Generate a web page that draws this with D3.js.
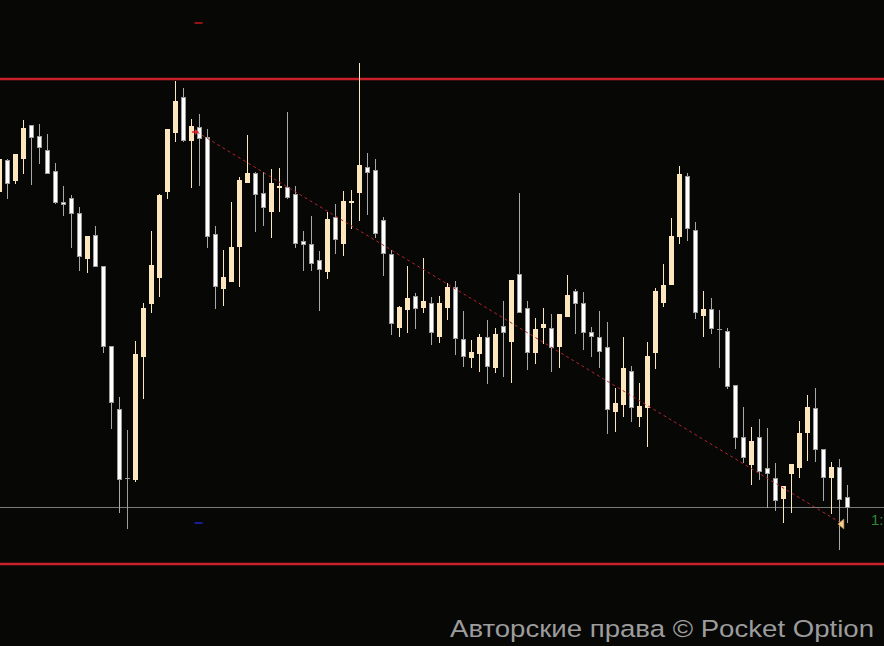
<!DOCTYPE html>
<html><head><meta charset="utf-8">
<script src="https://cdn.jsdelivr.net/npm/d3@7"></script>
<style>html,body{margin:0;padding:0;background:#070706;overflow:hidden}</style>
</head><body><svg id="chart" width="884" height="646"></svg>
<script>
const openP = [1.2888,1.2919,1.2899,1.2921,1.2954,1.2943,1.2929,1.2908,1.2877,1.2881,
1.2866,1.2821,1.2844,1.2813,1.2733,1.2670,1.2601,1.2600,1.2723,1.2776,
1.2802,1.2888,1.2947,1.2982,1.2939,1.2952,1.2942,1.2845,1.2791,1.2798,
1.2833,1.2897,1.2906,1.2886,1.2868,1.28925,1.2892,1.2885,1.2838,1.2835,
1.2819,1.2808,1.2862,1.2836,1.28775,1.2887,1.2912,1.2909,1.2859,1.2825,
1.2752,1.2770,1.2783,1.2772,1.2776,1.2743,1.2772,1.2792,1.2740,1.2722,
1.2726,1.2742,1.2712,1.2753,1.2738,1.2805,1.2771,1.2727,1.2752,1.2751,
1.2733,1.2763,1.2788,1.2776,1.2747,1.2742,1.2732,1.2668,1.2675,1.2708,
1.2663,1.2672,1.2727,1.2777,1.2795,1.2843,1.2903,1.2849,1.2764,1.2770,
1.2750,1.2748,1.2694,1.2642,1.2615,1.2642,1.2611,1.2601,1.2581,1.2606,
1.2612,1.2647,1.2671,1.2630,1.2602,1.2612,1.2582];
const highP = [1.2922,1.2920,1.2925,1.2959,1.2954,1.2955,1.2945,1.2916,1.2893,1.2884,
1.2872,1.2843,1.2853,1.2813,1.2733,1.2682,1.2649,1.2738,1.2776,1.2848,
1.2885,1.2950,1.2998,1.2991,1.2960,1.2965,1.2950,1.2853,1.2829,1.2877,
1.2902,1.2944,1.2907,1.2907,1.2910,1.2911,1.2967,1.2893,1.2848,1.2863,
1.2828,1.2867,1.2875,1.2888,1.2889,1.3016,1.2926,1.2920,1.2862,1.2829,
1.2773,1.2813,1.2786,1.2821,1.2782,1.2783,1.2796,1.2798,1.2768,1.2739,
1.2745,1.2759,1.2751,1.2778,1.2799,1.2886,1.2778,1.2761,1.2771,1.2765,
1.2765,1.2804,1.2790,1.2787,1.2752,1.2768,1.2757,1.2691,1.2742,1.2713,
1.2696,1.2737,1.2791,1.2815,1.2861,1.2913,1.2906,1.2857,1.2788,1.2781,
1.2769,1.2751,1.2694,1.2672,1.2652,1.2660,1.2651,1.2616,1.2593,1.2615,
1.2658,1.2684,1.2691,1.2630,1.2617,1.2620,1.2594];
const lowP = [1.2884,1.2881,1.2896,1.2906,1.2895,1.2916,1.2906,1.2876,1.2864,1.2832,
1.2809,1.2807,1.2813,1.2727,1.2651,1.2567,1.2551,1.2598,1.2681,1.2767,
1.2783,1.2881,1.2938,1.2938,1.2892,1.2894,1.2832,1.2771,1.2774,1.2798,
1.2793,1.2897,1.2848,1.2854,1.2842,1.2868,1.2881,1.2832,1.2809,1.2809,
1.2769,1.2801,1.2826,1.2824,1.2851,1.2859,1.2865,1.2842,1.2804,1.2745,
1.2743,1.2747,1.2751,1.2767,1.2735,1.2737,1.2760,1.2725,1.2713,1.2712,
1.2708,1.2696,1.2707,1.2703,1.2697,1.2767,1.2710,1.2716,1.2736,1.2708,
1.2712,1.2763,1.2746,1.2730,1.2723,1.2712,1.2646,1.2648,1.2663,1.2658,
1.2653,1.2633,1.2711,1.2773,1.2795,1.2836,1.2839,1.2761,1.2743,1.2746,
1.2712,1.2691,1.2631,1.2617,1.2595,1.2600,1.2572,1.2569,1.2557,1.2567,
1.2602,1.2619,1.2618,1.2579,1.2566,1.2530,1.2557];
const closeP = [1.2920,1.2896,1.2925,1.2951,1.2942,1.2932,1.2906,1.2877,1.2875,1.2866,
1.2823,1.2843,1.2813,1.2733,1.2677,1.2600,1.2601,1.2725,1.2771,1.2814,
1.2884,1.2950,1.2978,1.2939,1.2953,1.2941,1.2843,1.2793,1.2802,1.2832,
1.2899,1.2906,1.2885,1.2872,1.2896,1.2893,1.2882,1.2836,1.2835,1.2816,
1.2810,1.2860,1.2840,1.2878,1.2878,1.2914,1.2907,1.2846,1.2826,1.2756,
1.2772,1.2781,1.2771,1.2778,1.2747,1.2776,1.2792,1.2741,1.2723,1.2727,
1.2742,1.2713,1.2745,1.2747,1.2799,1.2767,1.2727,1.2750,1.2755,1.2732,
1.2765,1.2784,1.2776,1.2747,1.2743,1.2728,1.2670,1.2676,1.2711,1.2672,
1.2673,1.2723,1.2788,1.2794,1.2843,1.2905,1.2851,1.2767,1.2770,1.2751,
1.2750,1.2693,1.2642,1.2622,1.2638,1.2608,1.2606,1.2579,1.2593,1.2615,
1.2646,1.2672,1.2630,1.2602,1.2612,1.2580,1.2572];

const levelPrices = [1.3000, 1.2515];          // resistance, support
const currentPrice = 1.2572;
const trendIdx = [24.7, 105.2];
const trendPrice = [1.2947, 1.2556];
const markerIdx = 24.9;
const markerHigh = 1.3056, markerLow = 1.2556;
const watermark = "Авторские права © Pocket Option";
const priceLabel = "1:";

const W = 884, H = 646;
const svg = d3.select("#chart");
svg.append("rect").attr("width", W).attr("height", H).attr("fill", "#070706");

const x = d3.scaleLinear().domain([0, 106]).range([-0.7, 847.3]);
const y = d3.scaleLinear().domain([1.2515, 1.3000]).range([564, 79]);

const candles = openP.map((o, i) => ({i, o, h: highP[i], l: lowP[i], c: closeP[i]}));
const CREAM = "#fce6bd", WHITE = "#ffffff", GREY = "#9d9d9d";

// current price line
svg.append("line").attr("x1", 0).attr("x2", W)
  .attr("y1", Math.round(y(currentPrice)) + 0.5).attr("y2", Math.round(y(currentPrice)) + 0.5)
  .attr("stroke", "#7a7a7a").attr("stroke-width", 1);

// resistance/support lines
svg.selectAll(".lvl").data(levelPrices).enter().append("line")
  .attr("x1", 0).attr("x2", W)
  .attr("y1", d => y(d)).attr("y2", d => y(d))
  .attr("stroke", "#c9202b").attr("stroke-width", 2.6);

const g = svg.append("g").attr("shape-rendering", "crispEdges");
candles.forEach(d => {
  const cx = Math.floor(x(d.i));
  const bull = d.c > d.o, doji = d.c === d.o;
  const wickCol = bull ? CREAM : (doji ? GREY : "#a8a8a8");
  g.append("line").attr("x1", cx + 0.5).attr("x2", cx + 0.5)
    .attr("y1", Math.round(y(d.h))).attr("y2", Math.round(y(d.l)) + 1)
    .attr("stroke", wickCol).attr("stroke-width", 1);
  const top = Math.round(y(Math.max(d.o, d.c)));
  const bot = Math.round(y(Math.min(d.o, d.c)));
  if (doji) {
    g.append("line").attr("x1", cx - 2).attr("x2", cx + 3)
      .attr("y1", top + 0.5).attr("y2", top + 0.5).attr("stroke", GREY);
  } else if (bull) {
    g.append("rect").attr("x", cx - 2).attr("y", top).attr("width", 5)
      .attr("height", Math.max(2, bot - top + 1)).attr("fill", CREAM);
  } else {
    g.append("rect").attr("x", cx - 1.5).attr("y", top + 0.5).attr("width", 4)
      .attr("height", Math.max(1, bot - top)).attr("fill", WHITE)
      .attr("stroke", GREY).attr("stroke-width", 1);
  }
});

// trend line
svg.append("line")
  .attr("x1", x(trendIdx[0])).attr("y1", y(trendPrice[0]))
  .attr("x2", x(trendIdx[1])).attr("y2", y(trendPrice[1]))
  .attr("stroke", "#b4242c").attr("stroke-width", 1).attr("stroke-dasharray", "3,3");
// start marker (red arrow pointing right)
const sx = x(trendIdx[0]), sy = y(trendPrice[0]);
svg.append("path").attr("d", `M${sx-2},${sy-3} L${sx+2},${sy} L${sx-2},${sy+3} Z M${sx-5},${sy-0.8} h4 v1.6 h-4 Z`)
  .attr("fill", "#e0202a");
// end marker triangle (pointing left)
const ex = x(trendIdx[1]), ey = y(trendPrice[1]);
svg.append("path").attr("d", `M${ex-3},${ey+1} L${ex+3},${ey-4} L${ex+3},${ey+6} Z`)
  .attr("fill", "#f0d090").attr("stroke", "#c09040").attr("stroke-width", 0.6);

// small markers
svg.append("line").attr("x1", x(markerIdx) - 4).attr("x2", x(markerIdx) + 4)
  .attr("y1", y(markerHigh)).attr("y2", y(markerHigh))
  .attr("stroke", "#c0181c").attr("stroke-width", 1.5);
svg.append("line").attr("x1", x(markerIdx) - 4).attr("x2", x(markerIdx) + 4)
  .attr("y1", y(markerLow)).attr("y2", y(markerLow))
  .attr("stroke", "#2424c8").attr("stroke-width", 1.5);

// price label at the right edge
svg.append("text").attr("x", 871).attr("y", 525).text(priceLabel)
  .attr("fill", "#2f8a35").attr("font-family", "Liberation Sans, Arial, sans-serif").attr("font-size", 15);

// watermark
svg.append("text").attr("x", 450).attr("y", 637)
  .attr("textLength", 424).attr("lengthAdjust", "spacingAndGlyphs")
  .attr("fill", "#9c9c9c").attr("font-family", "Liberation Sans, Arial, sans-serif")
  .attr("font-size", 24.5).text(watermark);
</script></body></html>
